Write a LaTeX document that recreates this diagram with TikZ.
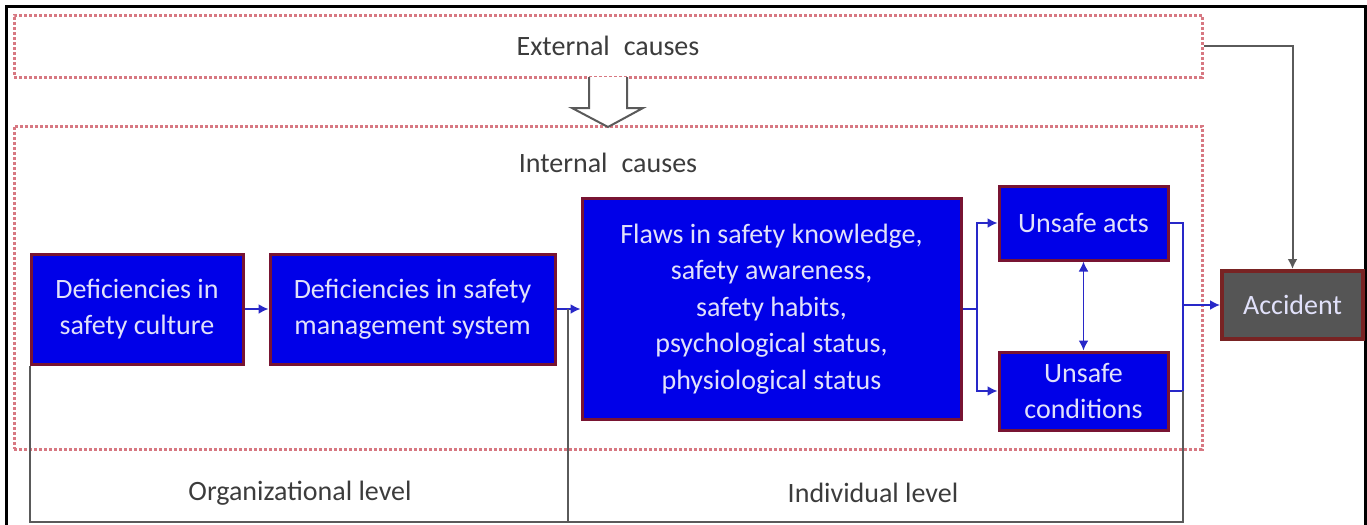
\documentclass[tikz,border=0pt]{standalone}
\usepackage{fontspec}
\setmainfont{Carlito}
\usetikzlibrary{arrows.meta}
\definecolor{boxblue}{RGB}{0,0,232}
\definecolor{boxedge}{RGB}{120,20,50}
\definecolor{dotred}{RGB}{215,120,130}
\definecolor{lblgray}{RGB}{60,60,60}
\definecolor{linegray}{RGB}{90,90,90}
\definecolor{linkblue}{RGB}{40,40,200}
\definecolor{accfill}{RGB}{85,85,85}
\definecolor{accedge}{RGB}{120,35,35}
\definecolor{paletext}{RGB}{225,225,250}
\tikzset{
  dotbox/.style={draw=dotred, densely dotted, line width=1.5pt, inner sep=0pt},
  bluebox/.style={fill=boxblue, draw=boxedge, line width=1.5pt, inner sep=0pt,
    text=paletext, align=center, font=\fontsize{14}{18.25}\selectfont},
  accbox/.style={fill=accfill, draw=accedge, line width=2pt, inner sep=0pt,
    text=paletext, font=\fontsize{14}{18.25}\selectfont},
  lbl/.style={text=lblgray, font=\fontsize{14}{18}\selectfont, inner sep=0pt},
  blink/.style={draw=linkblue, line width=0.9pt},
  barrow/.style={blink, -{Latex[length=5pt,width=5pt]}},
  glink/.style={draw=linegray, line width=1pt},
  garrow/.style={glink, -{Latex[length=5pt,width=5pt]}}
}
\begin{document}
\begin{tikzpicture}[x=0.5pt,y=-0.5pt]
\useasboundingbox (0,0) rectangle (1367,525);
% outer frame
\draw[black, line width=1.5pt] (6,525) -- (6,6) -- (1365,6) -- (1365,525);
% dotted group boxes
\node[dotbox, minimum width=594pt, minimum height=31pt] (ext) at (608,46) {};
\node[dotbox, minimum width=594pt, minimum height=161.5pt] (int) at (608,287.5) {};
\node[lbl] (extlbl) at (608,46) {External\hspace{0.5em}causes};
\node[lbl] (intlbl) at (608,163) {Internal\hspace{0.5em}causes};
% hollow arrow
\draw[draw=linegray, fill=white, line width=1pt]
  (589,77) -- (589,108) -- (572,108) -- (608,127) -- (643,108) -- (627,108) -- (627,77);
% blue boxes
\node[bluebox, minimum width=106pt, minimum height=55pt] (b1) at (137,309) {Deficiencies in\\safety culture};
\node[bluebox, minimum width=142.5pt, minimum height=55pt] (b2) at (412.5,309) {Deficiencies in safety\\management system};
\node[bluebox, minimum width=189.5pt, minimum height=110.5pt] (b3) at (771.5,309) {Flaws in safety knowledge,\\safety awareness,\\safety habits,\\psychological status,\\physiological status};
\node[bluebox, minimum width=84.5pt, minimum height=37pt] (ua) at (1083.5,223) {Unsafe acts};
\node[bluebox, minimum width=84.5pt, minimum height=39pt] (uc) at (1083.5,391) {Unsafe\\conditions};
\node[accbox, minimum width=70.5pt, minimum height=34pt] (acc) at (1292.5,305) {Accident};
% coordinates
\coordinate (sp) at (977,309);
\coordinate (jn) at (1183,305);
\coordinate (mid) at (568,309);
\coordinate (bm) at (568,522);
\coordinate (br) at (1183,522);
\coordinate (bru) at (1183,391);
% connectors
\draw[barrow] (b1) -- (b2);
\draw[barrow] (b2) -- (b3);
\draw[blink] (b3.east) -- (sp);
\draw[barrow] (sp) |- (ua.west);
\draw[barrow] (sp) |- (uc.west);
\draw[blink, {Latex[length=5pt,width=5pt]}-{Latex[length=5pt,width=5pt]}] (ua) -- (uc);
\draw[blink] (ua.east) -| (jn) |- (uc.east);
\draw[barrow] (jn) -- (acc.west);
\draw[garrow] (ext.east) -| (acc.north);
% level bracket
\draw[glink] (b1.south west) |- (br) -- (bru);
\draw[glink] (mid) -- (bm);
\node[lbl] (org) at (300,493) {Organizational level};
\node[lbl] (ind) at (873,493) {Individual level};
\end{tikzpicture}
\end{document}
